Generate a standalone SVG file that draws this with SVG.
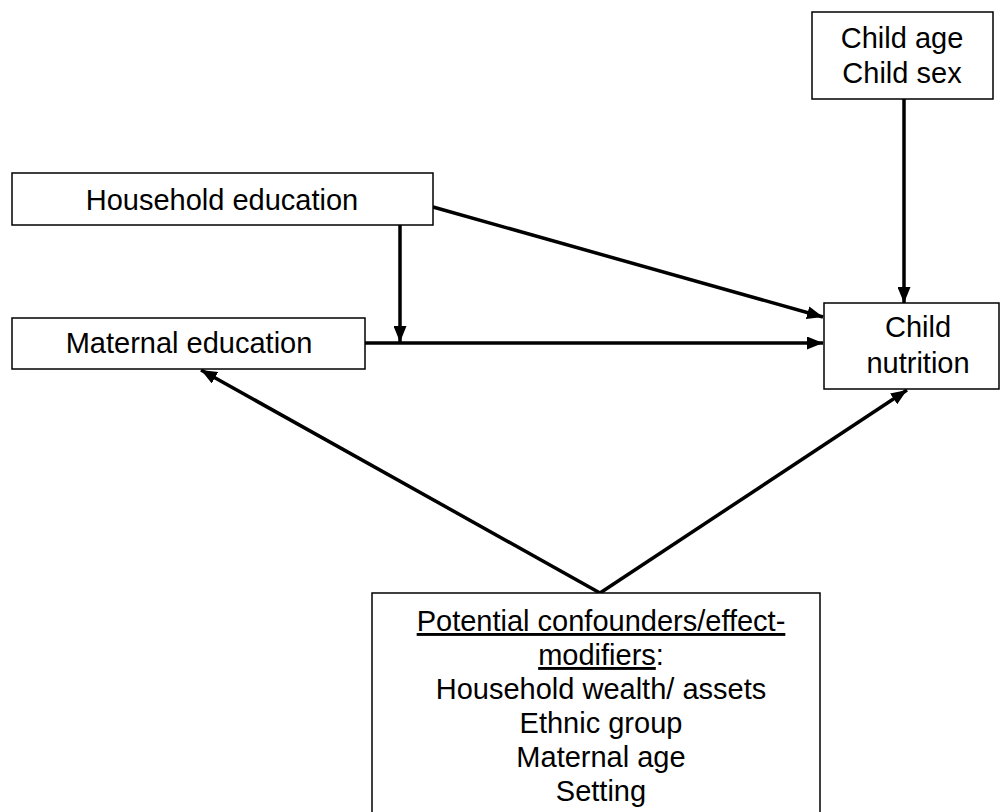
<svg xmlns="http://www.w3.org/2000/svg" width="1001" height="812" viewBox="0 0 1001 812">
  <style>
    .box { fill: #ffffff; stroke: #000000; stroke-width: 1.5; }
    .lbl { font-family: "Liberation Sans", Arial, sans-serif; font-size: 29px; fill: #000000; text-anchor: middle; }
    .edge { fill: none; stroke: #000000; stroke-width: 3.5; }
    .u { text-decoration: underline; }
  </style>
  <defs>
    <marker id="arrow" viewBox="0 0 16 13" refX="16" refY="6.5" markerWidth="16" markerHeight="13" markerUnits="userSpaceOnUse" orient="auto">
      <path d="M0,0 L16,6.5 L0,13 z" fill="#000000"/>
    </marker>
  </defs>
  <rect width="1001" height="812" fill="#ffffff"/>

  <g id="connectors">
    <!-- child characteristics down into child nutrition -->
    <line class="edge" x1="904" y1="99" x2="904" y2="303" marker-end="url(#arrow)"/>
    <!-- household education to child nutrition -->
    <line class="edge" x1="433" y1="207" x2="823" y2="317" marker-end="url(#arrow)"/>
    <!-- household education onto the maternal pathway -->
    <line class="edge" x1="400" y1="225" x2="400" y2="342" marker-end="url(#arrow)"/>
    <!-- maternal education to child nutrition -->
    <line class="edge" x1="365" y1="343" x2="823" y2="343" marker-end="url(#arrow)"/>
    <!-- confounders to both ends -->
    <line class="edge" x1="600" y1="593" x2="201" y2="370" marker-end="url(#arrow)"/>
    <line class="edge" x1="600" y1="593" x2="907" y2="390" marker-end="url(#arrow)"/>
  </g>

  <g id="child-characteristics">
    <rect class="box" x="812" y="12" width="181" height="87"/>
    <text class="lbl" x="902" y="48">Child age</text>
    <text class="lbl" x="902" y="83">Child sex</text>
  </g>

  <g id="household-education">
    <rect class="box" x="12" y="173" width="421" height="52"/>
    <text class="lbl" x="222" y="210">Household education</text>
  </g>

  <g id="maternal-education">
    <rect class="box" x="12" y="318" width="353" height="51"/>
    <text class="lbl" x="189" y="353">Maternal education</text>
  </g>

  <g id="child-nutrition">
    <rect class="box" x="824" y="303" width="175" height="86"/>
    <text class="lbl" x="918" y="337">Child</text>
    <text class="lbl" x="918" y="373">nutrition</text>
  </g>

  <g id="confounders">
    <rect class="box" x="372" y="593" width="448" height="230"/>
    <text class="lbl" x="601" y="631"><tspan class="u">Potential confounders/effect-</tspan></text>
    <text class="lbl" x="601" y="665"><tspan class="u">modifiers</tspan>:</text>
    <text class="lbl" x="601" y="699">Household wealth/ assets</text>
    <text class="lbl" x="601" y="733">Ethnic group</text>
    <text class="lbl" x="601" y="767">Maternal age</text>
    <text class="lbl" x="601" y="801">Setting</text>
  </g>
</svg>
